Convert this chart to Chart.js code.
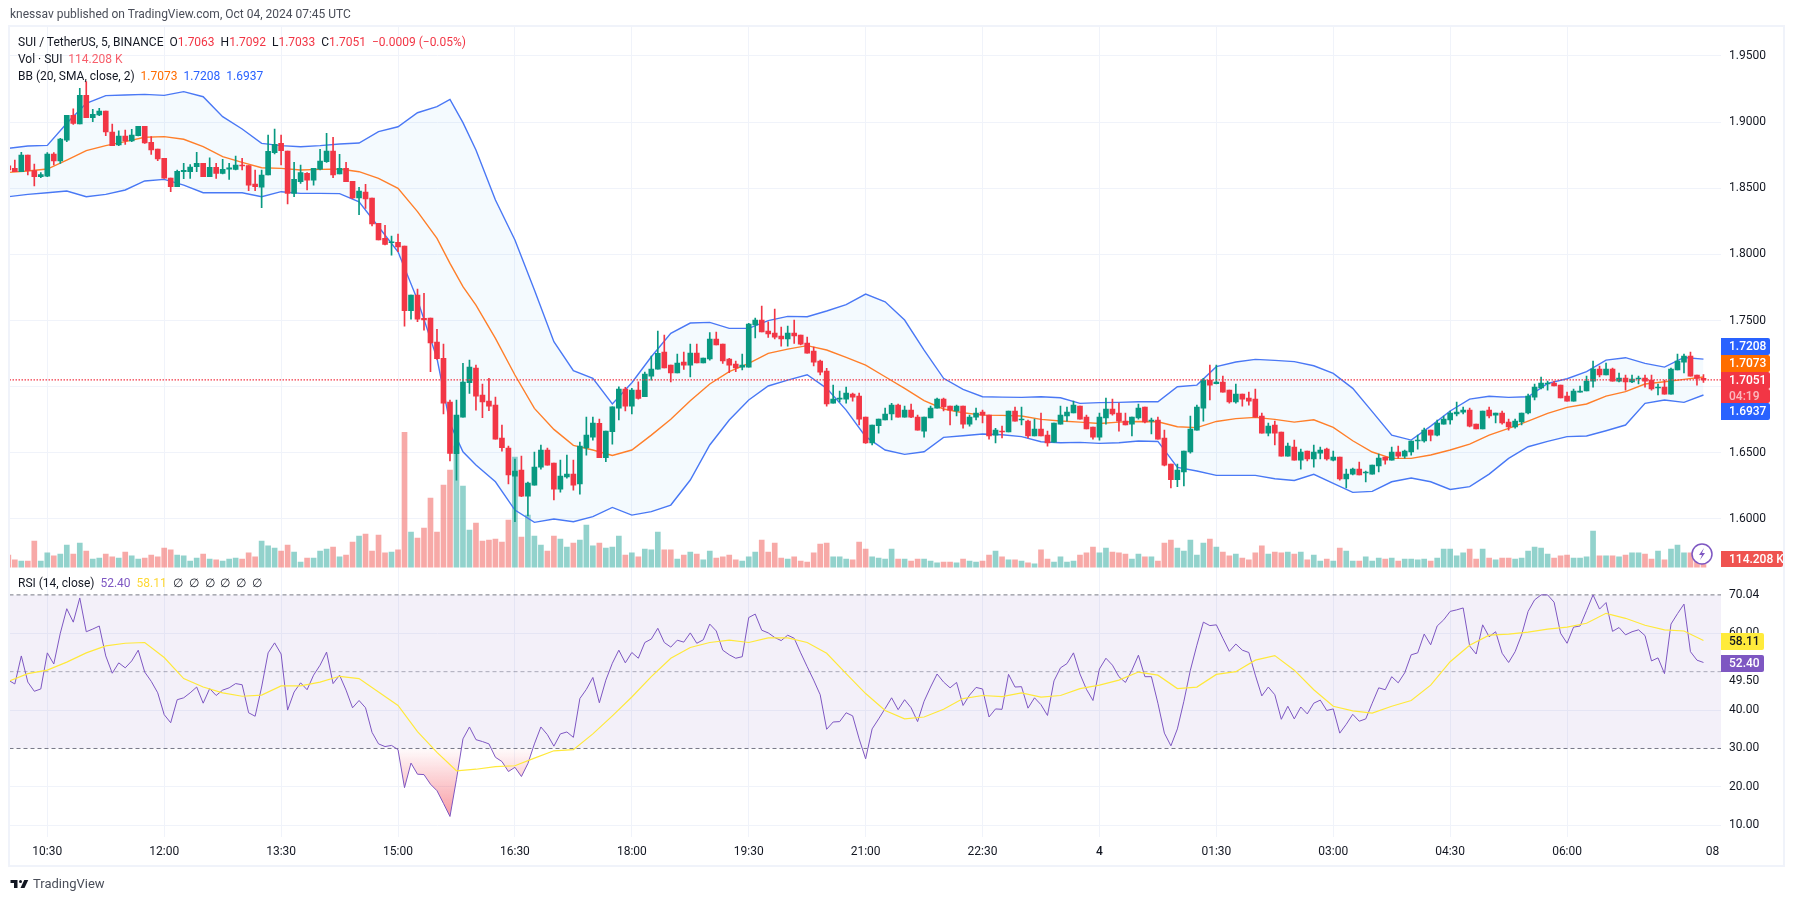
<!DOCTYPE html>
<html>
<head>
<meta charset="utf-8">
<title>SUI / TetherUS</title>
<script src="https://cdn.jsdelivr.net/npm/chart.js@4/dist/chart.umd.min.js"></script>
<style>
    html, body { margin: 0; padding: 0; background: #fff; width: 1794px; height: 901px; overflow: hidden; }
    body { font-family: Roboto, sans-serif; font-size: 12px; color: #131722; position: relative; }
    canvas { position: absolute; left: 0; top: 0; }
    .frame { position: absolute; left: 8px; top: 25px; width: 1773px; height: 838px; border: 2px solid #f0f3fa; }
    .row { position: absolute; left: 18px; white-space: pre; line-height: 16px; }
    .title { left: 10px; top: 6px; color: #4a4e59; }
    .red { color: #f23645; }
    .vol { color: #f7606c; }
    .orange { color: #ff6d00; }
    .blue { color: #2962ff; }
    .purple { color: #7e57c2; }
    .yellow { color: #fdd835; }
    .logo { position: absolute; left: 10px; top: 876px; display: flex; align-items: center; gap: 4px; font-size: 13px; color: #4a4e59; }
</style>
</head>
<body>
<canvas id="chart" width="1794" height="901"></canvas>
<div class="frame"></div>
<div class="row title">knessav published on TradingView.com, Oct 04, 2024 07:45 UTC</div>
<div class="row" style="top:34px">SUI / TetherUS, 5, BINANCE  O<span class="red">1.7063</span>  H<span class="red">1.7092</span>  L<span class="red">1.7033</span>  C<span class="red">1.7051</span>  <span class="red">−0.0009 (−0.05%)</span></div>
<div class="row" style="top:51px">Vol · SUI  <span class="vol">114.208 K</span></div>
<div class="row" style="top:68px">BB (20, SMA, close, 2)  <span class="orange">1.7073</span>  <span class="blue">1.7208</span>  <span class="blue">1.6937</span></div>
<div class="row" style="top:575px">RSI (14, close)  <span class="purple">52.40</span>  <span class="yellow">58.11</span>  ∅  ∅  ∅  ∅  ∅  ∅</div>
<div class="logo">
    <svg width="19" height="10" viewBox="0 0 36 20"><path fill="#131722" d="M14 2H0v6h7v10h7V2zM28 18h-8l7.5-16h8L28 18z"/><circle fill="#131722" cx="20" cy="5" r="3"/></svg>
    <span>TradingView</span>
</div>

<script>
// ==================== DATA ====================
const opens = [
    1.8670,1.8650,1.8625,1.8751,1.8633,1.8587,1.8592,1.8759,1.8706,1.8864,
    1.9051,1.8986,1.9202,1.9033,1.9054,1.9084,1.8925,1.8827,1.8895,1.8857,
    1.8897,1.8968,1.8847,1.8797,1.8726,1.8577,1.8512,1.8625,1.8625,1.8663,
    1.8688,1.8587,1.8658,1.8613,1.8645,1.8643,1.8673,1.8671,1.8532,1.8509,
    1.8600,1.8769,1.8839,1.8781,1.8461,1.8550,1.8613,1.8562,1.8645,1.8701,
    1.8781,1.8608,1.8650,1.8552,1.8426,1.8471,1.8426,1.8235,1.8121,1.8088,
    1.8091,1.8063,1.7574,1.7693,1.7516,1.7519,1.7337,1.7214,1.6884,1.6493,
    1.6770,1.7030,1.7141,1.6937,1.6891,1.6861,1.6612,1.6536,1.6324,1.6370,
    1.6173,1.6256,1.6392,1.6521,1.6423,1.6226,1.6317,1.6339,1.6264,1.6536,
    1.6619,1.6722,1.6463,1.6659,1.6838,1.6982,1.6853,1.6974,1.6924,1.7080,
    1.7133,1.7262,1.7163,1.7103,1.7186,1.7163,1.7254,1.7179,1.7209,1.7360,
    1.7322,1.7209,1.7171,1.7148,1.7148,1.7466,1.7504,1.7420,1.7405,1.7383,
    1.7360,1.7405,1.7390,1.7330,1.7269,1.7194,1.7118,1.6876,1.6906,1.6906,
    1.6944,1.6929,1.6770,1.6574,1.6705,1.6748,1.6793,1.6861,1.6770,1.6823,
    1.6770,1.6664,1.6763,1.6838,1.6906,1.6853,1.6816,1.6853,1.6717,1.6770,
    1.6808,1.6785,1.6634,1.6664,1.6657,1.6816,1.6748,1.6740,1.6627,1.6680,
    1.6634,1.6581,1.6717,1.6778,1.6801,1.6853,1.6770,1.6695,1.6619,1.6763,
    1.6831,1.6801,1.6740,1.6717,1.6763,1.6846,1.6740,1.6748,1.6612,1.6415,
    1.6297,1.6355,1.6506,1.6672,1.6838,1.7050,1.7022,1.7035,1.6974,1.6884,
    1.6944,1.6914,1.6906,1.6778,1.6649,1.6710,1.6657,1.6475,1.6543,1.6445,
    1.6513,1.6453,1.6498,1.6528,1.6445,1.6468,1.6302,1.6339,1.6377,1.6347,
    1.6339,1.6400,1.6468,1.6445,1.6506,1.6475,1.6506,1.6589,1.6589,1.6672,
    1.6634,1.6717,1.6748,1.6793,1.6808,1.6823,1.6717,1.6680,1.6823,1.6785,
    1.6801,1.6733,1.6695,1.6733,1.6801,1.6921,1.6990,1.7020,1.7027,1.7012,
    1.6929,1.6891,1.6959,1.6967,1.7042,1.7133,1.7088,1.7133,1.7042,1.7065,
    1.7035,1.7058,1.7065,1.7050,1.6990,1.6997,1.6944,1.7126,1.7186,1.7231,
    1.7088,1.7063
];
const highs = [
    1.8675,1.8713,1.8771,1.8751,1.8683,1.8618,1.8769,1.8769,1.8877,1.9051,
    1.9101,1.9255,1.9306,1.9096,1.9104,1.9084,1.8986,1.8935,1.8940,1.8945,
    1.8968,1.8968,1.8890,1.8797,1.8726,1.8577,1.8638,1.8688,1.8678,1.8771,
    1.8688,1.8729,1.8688,1.8718,1.8688,1.8744,1.8726,1.8671,1.8638,1.8638,
    1.8902,1.8948,1.8902,1.8781,1.8696,1.8676,1.8618,1.8650,1.8794,1.8915,
    1.8885,1.8756,1.8696,1.8552,1.8507,1.8529,1.8426,1.8235,1.8220,1.8139,
    1.8154,1.8063,1.7693,1.7738,1.7705,1.7519,1.7433,1.7322,1.6899,1.6899,
    1.7176,1.7201,1.7163,1.7020,1.7063,1.6921,1.6710,1.6551,1.6453,1.6475,
    1.6279,1.6506,1.6559,1.6536,1.6423,1.6445,1.6483,1.6445,1.6581,1.6770,
    1.6770,1.6755,1.6664,1.6848,1.6999,1.6995,1.6987,1.7037,1.7110,1.7231,
    1.7420,1.7390,1.7163,1.7247,1.7262,1.7322,1.7322,1.7216,1.7408,1.7413,
    1.7322,1.7214,1.7194,1.7247,1.7478,1.7519,1.7609,1.7491,1.7587,1.7451,
    1.7458,1.7504,1.7390,1.7375,1.7299,1.7201,1.7138,1.7012,1.6967,1.6997,
    1.6952,1.6952,1.6770,1.6710,1.6755,1.6838,1.6874,1.6869,1.6853,1.6869,
    1.6785,1.6770,1.6853,1.6914,1.6914,1.6853,1.6861,1.6853,1.6785,1.6838,
    1.6823,1.6785,1.6685,1.6702,1.6816,1.6846,1.6846,1.6748,1.6755,1.6801,
    1.6664,1.6725,1.6853,1.6846,1.6891,1.6853,1.6785,1.6695,1.6801,1.6914,
    1.6906,1.6876,1.6801,1.6770,1.6869,1.6846,1.6763,1.6770,1.6672,1.6415,
    1.6415,1.6513,1.6778,1.6861,1.7063,1.7163,1.7163,1.7080,1.6974,1.7020,
    1.6944,1.6959,1.6982,1.6801,1.6725,1.6740,1.6657,1.6574,1.6596,1.6528,
    1.6513,1.6559,1.6543,1.6536,1.6513,1.6468,1.6377,1.6385,1.6430,1.6362,
    1.6407,1.6491,1.6468,1.6543,1.6551,1.6521,1.6589,1.6634,1.6687,1.6672,
    1.6748,1.6778,1.6816,1.6884,1.6846,1.6838,1.6717,1.6816,1.6846,1.6801,
    1.6816,1.6755,1.6755,1.6801,1.6944,1.7020,1.7073,1.7042,1.7042,1.7012,
    1.6959,1.6982,1.7005,1.7080,1.7194,1.7156,1.7179,1.7141,1.7103,1.7088,
    1.7088,1.7080,1.7088,1.7088,1.7020,1.7050,1.7141,1.7247,1.7247,1.7262,
    1.7088,1.7092
];
const lows = [
    1.8625,1.8625,1.8625,1.8600,1.8517,1.8580,1.8587,1.8676,1.8688,1.8852,
    1.8983,1.8986,1.9033,1.9003,1.9049,1.8897,1.8822,1.8822,1.8832,1.8852,
    1.8895,1.8839,1.8756,1.8708,1.8575,1.8474,1.8512,1.8572,1.8575,1.8625,
    1.8587,1.8587,1.8575,1.8608,1.8567,1.8638,1.8638,1.8482,1.8482,1.8353,
    1.8600,1.8759,1.8676,1.8381,1.8436,1.8537,1.8487,1.8524,1.8638,1.8696,
    1.8580,1.8608,1.8550,1.8421,1.8300,1.8348,1.8215,1.8109,1.8071,1.7995,
    1.8020,1.7458,1.7511,1.7491,1.7428,1.7113,1.7206,1.6793,1.6438,1.6294,
    1.6770,1.6949,1.6823,1.6765,1.6818,1.6604,1.6513,1.6264,1.5979,1.6168,
    1.6022,1.6256,1.6377,1.6407,1.6143,1.6203,1.6309,1.6218,1.6188,1.6483,
    1.6596,1.6463,1.6433,1.6566,1.6748,1.6816,1.6793,1.6906,1.6924,1.7050,
    1.7133,1.7141,1.7035,1.7103,1.7131,1.7073,1.7179,1.7179,1.7201,1.7315,
    1.7176,1.7105,1.7113,1.7126,1.7148,1.7368,1.7413,1.7373,1.7360,1.7307,
    1.7307,1.7327,1.7315,1.7254,1.7156,1.7088,1.6853,1.6876,1.6884,1.6876,
    1.6891,1.6710,1.6571,1.6559,1.6649,1.6748,1.6748,1.6770,1.6770,1.6765,
    1.6672,1.6619,1.6763,1.6838,1.6816,1.6710,1.6778,1.6687,1.6702,1.6748,
    1.6725,1.6604,1.6574,1.6612,1.6657,1.6740,1.6710,1.6612,1.6627,1.6627,
    1.6551,1.6581,1.6717,1.6740,1.6801,1.6755,1.6680,1.6604,1.6596,1.6717,
    1.6785,1.6664,1.6710,1.6627,1.6755,1.6725,1.6642,1.6604,1.6400,1.6234,
    1.6244,1.6249,1.6498,1.6672,1.6740,1.6899,1.7020,1.6959,1.6876,1.6876,
    1.6853,1.6861,1.6770,1.6649,1.6627,1.6559,1.6475,1.6475,1.6445,1.6377,
    1.6438,1.6392,1.6453,1.6445,1.6438,1.6294,1.6234,1.6332,1.6332,1.6279,
    1.6339,1.6355,1.6415,1.6445,1.6460,1.6460,1.6483,1.6528,1.6581,1.6589,
    1.6627,1.6717,1.6717,1.6778,1.6793,1.6695,1.6680,1.6680,1.6763,1.6725,
    1.6717,1.6672,1.6687,1.6710,1.6793,1.6899,1.6982,1.6974,1.7005,1.6914,
    1.6891,1.6891,1.6959,1.6967,1.6997,1.7073,1.7088,1.7042,1.7035,1.6974,
    1.7030,1.7020,1.6997,1.6974,1.6937,1.6944,1.6944,1.7126,1.7103,1.7080,
    1.7012,1.7033
];
const closes = [
    1.8638,1.8625,1.8751,1.8633,1.8587,1.8603,1.8759,1.8706,1.8872,1.9051,
    1.8991,1.9202,1.9033,1.9059,1.9084,1.8925,1.8822,1.8895,1.8857,1.8902,
    1.8968,1.8842,1.8790,1.8721,1.8577,1.8512,1.8628,1.8635,1.8660,1.8688,
    1.8587,1.8658,1.8613,1.8643,1.8655,1.8676,1.8668,1.8524,1.8512,1.8600,
    1.8779,1.8832,1.8784,1.8461,1.8567,1.8618,1.8562,1.8650,1.8706,1.8781,
    1.8600,1.8650,1.8550,1.8426,1.8479,1.8419,1.8230,1.8109,1.8076,1.8093,
    1.8056,1.7574,1.7693,1.7511,1.7504,1.7330,1.7211,1.6876,1.6496,1.6785,
    1.7035,1.7148,1.6929,1.6884,1.6853,1.6604,1.6538,1.6332,1.6362,1.6173,
    1.6271,1.6392,1.6521,1.6407,1.6226,1.6324,1.6339,1.6256,1.6551,1.6634,
    1.6725,1.6463,1.6664,1.6848,1.6982,1.6853,1.6974,1.6911,1.7095,1.7133,
    1.7252,1.7141,1.7103,1.7179,1.7163,1.7254,1.7179,1.7216,1.7360,1.7315,
    1.7194,1.7163,1.7141,1.7163,1.7473,1.7504,1.7413,1.7398,1.7375,1.7360,
    1.7405,1.7383,1.7322,1.7254,1.7186,1.7110,1.6869,1.6906,1.6914,1.6952,
    1.6921,1.6755,1.6574,1.6710,1.6755,1.6793,1.6861,1.6770,1.6823,1.6770,
    1.6672,1.6770,1.6838,1.6906,1.6846,1.6823,1.6853,1.6717,1.6770,1.6801,
    1.6785,1.6627,1.6672,1.6657,1.6816,1.6740,1.6755,1.6627,1.6680,1.6627,
    1.6574,1.6725,1.6785,1.6808,1.6861,1.6755,1.6680,1.6619,1.6770,1.6831,
    1.6793,1.6740,1.6710,1.6770,1.6838,1.6733,1.6748,1.6604,1.6407,1.6297,
    1.6370,1.6513,1.6680,1.6846,1.7050,1.7012,1.7035,1.6959,1.6884,1.6944,
    1.6906,1.6891,1.6770,1.6649,1.6702,1.6649,1.6475,1.6551,1.6445,1.6506,
    1.6453,1.6506,1.6521,1.6453,1.6468,1.6302,1.6339,1.6377,1.6332,1.6355,
    1.6407,1.6460,1.6445,1.6506,1.6475,1.6513,1.6589,1.6596,1.6672,1.6634,
    1.6725,1.6755,1.6801,1.6808,1.6823,1.6702,1.6680,1.6816,1.6778,1.6801,
    1.6725,1.6695,1.6740,1.6801,1.6929,1.6997,1.7027,1.7027,1.7005,1.6914,
    1.6891,1.6967,1.6967,1.7042,1.7133,1.7088,1.7133,1.7042,1.7065,1.7035,
    1.7058,1.7065,1.7042,1.6982,1.6997,1.6944,1.7133,1.7194,1.7231,1.7080,
    1.7063,1.7051
];
// volume in thousands of SUI
const volumes = [
    176,105,90,90,376,90,205,162,190,319,
    190,347,233,119,133,190,148,133,219,162,
    119,133,176,148,276,248,176,162,90,133,
    190,119,105,90,119,133,119,205,148,376,
    305,276,233,319,219,76,133,133,233,262,
    290,148,176,362,447,476,233,462,205,219,
    248,1928,505,419,562,990,505,1176,1390,1733,
    1161,533,633,376,390,405,362,676,1576,433,
    747,447,319,233,447,405,290,347,390,605,
    305,347,276,290,447,176,205,148,262,248,
    505,248,248,119,176,219,190,105,233,133,
    148,176,105,90,148,219,390,219,347,133,
    119,148,90,76,205,333,347,148,148,119,
    105,362,262,148,133,119,262,119,119,90,
    119,119,90,62,76,76,62,119,90,76,
    90,176,233,148,105,105,90,62,48,248,
    119,76,148,76,90,176,205,290,205,276,
    219,205,190,119,190,148,148,90,347,390,
    276,233,390,176,347,405,290,219,162,190,
    133,105,205,305,190,219,205,219,190,219,
    105,176,90,119,90,276,233,90,90,148,
    90,133,119,133,90,119,119,105,119,90,
    133,262,262,162,205,262,119,262,133,105,
    133,133,119,133,233,290,276,190,133,162,
    176,133,133,148,519,162,162,162,148,176,
    205,205,190,119,233,105,262,319,205,205,
    105,114.208
];
const rsiValues = [
    47.8,46.8,54.1,47.3,44.9,45.5,54.9,52.0,60.0,66.4,
    62.9,69.2,60.4,61.1,61.9,54.1,49.6,52.3,51.0,52.8,
    55.6,49.9,47.5,44.5,38.8,36.7,42.7,43.2,44.5,46.0,
    41.8,45.6,43.8,45.2,45.8,46.9,46.6,39.3,38.4,46.0,
    54.9,57.5,54.6,40.0,44.7,47.1,45.3,49.1,51.7,55.1,
    46.9,49.1,45.2,40.6,42.5,40.6,34.2,31.2,30.5,30.8,
    29.7,19.8,26.2,23.3,23.2,20.7,19.0,15.7,12.3,22.0,
    32.5,35.6,32.3,31.8,31.2,27.7,26.6,24.0,25.1,22.7,
    26.1,31.2,35.6,33.6,30.6,33.8,34.3,32.9,43.0,45.4,
    48.5,41.9,47.8,52.2,55.6,52.3,55.0,53.5,57.6,58.5,
    61.3,57.6,56.4,58.2,57.7,60.1,57.4,58.3,62.4,60.6,
    55.6,54.4,53.5,53.9,64.1,65.0,60.8,60.1,58.9,58.1,
    59.5,58.7,54.9,51.3,47.8,44.0,35.0,36.9,37.0,39.3,
    38.5,32.5,27.3,35.1,37.7,40.4,43.2,40.1,42.7,40.6,
    37.0,42.3,46.0,49.4,47.3,45.8,47.2,41.2,43.9,45.9,
    45.5,38.2,40.3,40.2,49.3,46.0,46.1,40.5,43.2,41.4,
    38.6,47.6,51.0,52.1,54.9,49.4,45.4,42.5,50.7,53.5,
    51.7,48.7,47.2,50.4,54.3,48.7,48.7,41.8,34.0,30.7,
    35.1,42.3,50.4,56.9,62.9,62.0,62.2,58.7,55.3,57.2,
    55.6,55.0,49.1,43.7,46.0,44.0,37.6,41.0,37.7,40.8,
    39.0,41.8,42.6,39.9,40.3,34.0,36.3,38.9,37.1,37.7,
    41.8,45.8,45.3,48.7,47.1,49.7,54.4,54.9,59.8,57.0,
    61.9,63.5,65.7,66.1,66.6,56.7,54.6,62.2,59.1,60.4,
    54.8,52.4,55.2,59.6,65.7,68.7,70.0,70.0,68.1,60.0,
    57.4,61.6,61.9,65.9,70.0,66.3,68.0,60.5,61.5,59.6,
    60.4,60.9,59.4,52.8,53.6,49.5,62.4,65.1,67.6,55.2,
    53.0,52.40
];
// bar numbers the RSI average was read at, every third bar
const rsiMaBars = [
    0,3,6,9,12,15,18,21,24,27,30,33,36,39,42,45,48,51,54,57,60,63,66,69,72,75,78,81,84,87,90,
    93,96,99,102,105,108,111,114,117,120,123,126,129,132,135,138,141,144,147,150,153,156,159,162,165,168,171,174,177,180,183,
    186,189,192,195,198,201,204,207,210,213,216,219,222,225,228,231,234,237,240,243,246,249,252,255,258,261
];
const rsiMaValues = [
    47.5,49.5,50.4,52.5,54.9,56.7,57.4,57.6,53.7,48.2,46.0,44.5,43.6,43.9,46.3,46.3,47.3,48.8,48.2,44.7,41.2,34.4,29.0,24.2,24.6,25.3,25.5,27.5,29.4,29.7,33.8,
    38.5,43.4,48.7,53.5,56.3,57.6,58.2,57.6,58.8,58.8,57.6,54.8,49.5,44.3,39.9,37.7,38.2,40.2,43.0,43.8,43.5,44.5,43.4,43.8,45.6,46.5,47.8,49.9,49.1,45.6,46.0,
    49.3,50.0,53.0,54.2,50.4,45.3,41.0,39.8,39.2,41.0,42.5,46.5,52.6,56.9,59.5,59.8,60.3,61.1,61.6,62.6,65.2,63.9,62.1,60.9,60.6,58.11
];
// bar numbers the Bollinger lines were read at
const bbBars = [
    0,3,6,9,12,15,18,21,24,27,30,33,36,39,42,45,48,51,54,57,60,63,66,68,70,72,75,78,81,84,87,90,
    93,96,99,102,105,108,111,114,117,120,123,126,129,132,135,138,141,144,147,150,153,156,159,162,165,168,171,174,177,180,183,
    186,189,192,195,198,201,204,207,210,213,216,219,222,225,228,231,234,237,240,243,246,249,252,255,258,261
];
const bbUpper = [
    1.8802,1.8819,1.8824,1.8991,1.9142,1.9200,1.9205,1.9210,1.9202,1.9230,1.9192,1.9041,1.8948,1.8839,1.8822,1.8814,1.8822,1.8834,1.8842,1.8928,1.8965,1.9071,1.9117,1.9172,1.8996,1.8789,1.8411,1.8109,1.7730,1.7340,1.7121,1.7063,
    1.6869,1.7030,1.7226,1.7403,1.7481,1.7486,1.7441,1.7441,1.7499,1.7531,1.7529,1.7572,1.7620,1.7700,1.7642,1.7504,1.7277,1.7063,1.6979,1.6924,1.6921,1.6919,1.6924,1.6916,1.6874,1.6879,1.6881,1.6886,1.6886,1.6999,1.7012,
    1.7151,1.7186,1.7206,1.7199,1.7189,1.7158,1.7100,1.6987,1.6811,1.6634,1.6596,1.6702,1.6816,1.6906,1.6927,1.6919,1.6924,1.7025,1.7060,1.7113,1.7201,1.7219,1.7176,1.7148,1.7221,1.7208
];
const bbBasis = [
    1.8620,1.8630,1.8645,1.8713,1.8784,1.8822,1.8852,1.8885,1.8890,1.8870,1.8814,1.8739,1.8696,1.8655,1.8650,1.8638,1.8643,1.8645,1.8625,1.8575,1.8499,1.8323,1.8121,1.7932,1.7756,1.7617,1.7365,1.7088,1.6836,1.6677,1.6556,1.6521,
    1.6480,1.6521,1.6634,1.6753,1.6894,1.7020,1.7113,1.7176,1.7252,1.7284,1.7310,1.7277,1.7221,1.7163,1.7075,1.6987,1.6894,1.6831,1.6803,1.6785,1.6783,1.6778,1.6753,1.6740,1.6732,1.6722,1.6732,1.6737,1.6735,1.6697,1.6690,
    1.6737,1.6758,1.6768,1.6753,1.6732,1.6750,1.6692,1.6591,1.6506,1.6458,1.6458,1.6483,1.6521,1.6566,1.6634,1.6685,1.6740,1.6798,1.6843,1.6869,1.6929,1.6962,1.7020,1.7037,1.7055,1.7073
];
const bbLower = [
    1.8436,1.8454,1.8466,1.8479,1.8436,1.8454,1.8487,1.8555,1.8567,1.8524,1.8466,1.8466,1.8466,1.8436,1.8474,1.8461,1.8461,1.8459,1.8398,1.8209,1.8020,1.7655,1.7214,1.6722,1.6508,1.6407,1.6281,1.6067,1.5974,1.6000,1.5979,1.6017,
    1.6087,1.6029,1.6055,1.6105,1.6294,1.6559,1.6748,1.6899,1.7005,1.7050,1.7090,1.6987,1.6823,1.6622,1.6521,1.6488,1.6508,1.6617,1.6629,1.6642,1.6637,1.6622,1.6584,1.6576,1.6579,1.6571,1.6576,1.6589,1.6586,1.6390,1.6362,
    1.6329,1.6329,1.6329,1.6304,1.6291,1.6337,1.6269,1.6201,1.6208,1.6281,1.6309,1.6281,1.6223,1.6244,1.6339,1.6458,1.6546,1.6586,1.6622,1.6627,1.6667,1.6710,1.6874,1.6899,1.6881,1.6937
];
const priceTicks = [1.95, 1.90, 1.85, 1.80, 1.75, 1.70, 1.65, 1.60];
const rsiTicks = [70.04, 60, 47.6, 40, 30, 20, 10];
const rsiTickLabels = ['70.04', '60.00', '49.50', '40.00', '30.00', '20.00', '10.00'];
const timeBars = [6, 24, 42, 60, 78, 96, 114, 132, 150, 168, 186, 204, 222, 240, 262.4];
const timeLabels = ['10:30', '12:00', '13:30', '15:00', '16:30', '18:00', '19:30', '21:00', '22:30', '4', '01:30', '03:00', '04:30', '06:00', '08'];

// ==================== COLORS ====================
const UP = '#089981';
const DOWN = '#f23645';
const GRID = '#f0f3fa';
const FONT = 'Roboto, sans-serif';
const X_MIN = 0.18;
const X_MAX = 263.7;

const bars = opens.map((_, i) => i);
const isUp = bars.map(i => closes[i] >= opens[i]);

function pairs(xs, ys) {
    return xs.map((x, i) => ({ x, y: ys[i] }));
}

function level(value) {
    return [{ x: X_MIN, y: value }, { x: X_MAX, y: value }];
}

function lineSet(data, yAxisID, color, extra) {
    return Object.assign({ type: 'line', data, yAxisID, borderColor: color, borderWidth: 1, pointRadius: 0, tension: 0, fill: false }, extra);
}

// ==================== VALUE TAGS ====================
function drawTag(ctx, text, top, bottom, bg, fg, right) {
    ctx.fillStyle = bg;
    ctx.beginPath();
    ctx.roundRect(1721, top, right - 1721, bottom - top, [0, 2, 2, 0]);
    ctx.fill();
    ctx.fillStyle = fg;
    ctx.textAlign = 'left';
    ctx.textBaseline = 'middle';
    ctx.fillText(text, 1729, (top + bottom) / 2 + 0.5);
}

const tagPlugin = {
    id: 'tags',
    afterDraw(chart) {
        const ctx = chart.ctx;
        ctx.save();
        ctx.font = '500 12px ' + FONT;
        drawTag(ctx, bbUpper[bbUpper.length - 1].toFixed(4), 338, 355, '#2962ff', '#fff', 1770);
        drawTag(ctx, bbBasis[bbBasis.length - 1].toFixed(4), 355, 372, '#ff6d00', '#fff', 1770);
        drawTag(ctx, closes[closes.length - 1].toFixed(4), 372, 389, DOWN, '#fff', 1770);
        drawTag(ctx, '04:19', 389, 403, DOWN, 'rgba(255,255,255,0.65)', 1770);
        drawTag(ctx, bbLower[bbLower.length - 1].toFixed(4), 403, 420, '#2962ff', '#fff', 1770);
        drawTag(ctx, '114.208 K', 551, 567, '#ef5350', '#fff', 1783);
        drawTag(ctx, rsiMaValues[rsiMaValues.length - 1].toFixed(2), 633, 650, '#ffeb3b', '#131722', 1764);
        drawTag(ctx, rsiValues[rsiValues.length - 1].toFixed(2), 655, 672, '#7e57c2', '#fff', 1764);

        // bolt badge over the volume pane
        ctx.beginPath();
        ctx.arc(1702, 554, 10, 0, Math.PI * 2);
        ctx.fillStyle = '#fff';
        ctx.fill();
        ctx.lineWidth = 1.5;
        ctx.strokeStyle = '#7e57c2';
        ctx.stroke();
        ctx.beginPath();
        ctx.moveTo(1704, 548);
        ctx.lineTo(1699, 555);
        ctx.lineTo(1702, 555);
        ctx.lineTo(1700, 560);
        ctx.lineTo(1705, 553);
        ctx.lineTo(1702, 553);
        ctx.closePath();
        ctx.fillStyle = '#7e57c2';
        ctx.fill();
        ctx.restore();
    }
};

// ==================== CHART ====================
const chart = new Chart(document.getElementById('chart'), {
    type: 'bar',
    data: {
        datasets: [
            // RSI band and levels
            lineSet(level(70), 'yRsi', '#787b86', { borderDash: [4, 3], order: 20, fill: '+1', backgroundColor: 'rgba(126,87,194,0.09)' }),
            lineSet(level(30), 'yRsi', '#787b86', { borderDash: [4, 3], order: 20 }),
            lineSet(level(50), 'yRsi', 'rgba(120,123,134,0.6)', { borderDash: [4, 3], order: 20 }),
            lineSet(pairs(bars, rsiValues), 'yRsi', '#7e57c2', { order: 6, fill: { target: { value: 30 }, above: 'transparent', below: 'rgba(242,54,69,0.3)' } }),
            lineSet(pairs(rsiMaBars, rsiMaValues), 'yRsi', '#ffe93b', { order: 5, borderWidth: 1.2 }),
            // Bollinger bands
            lineSet(pairs(bbBars, bbUpper), 'y', '#4a78f5', { order: 9, fill: '+1', backgroundColor: 'rgba(33,150,243,0.05)', borderWidth: 1.4 }),
            lineSet(pairs(bbBars, bbLower), 'y', '#4a78f5', { order: 9, borderWidth: 1.4 }),
            lineSet(pairs(bbBars, bbBasis), 'y', '#ff7f2a', { order: 8, borderWidth: 1.4 }),
            // last price line
            lineSet(level(closes[closes.length - 1]), 'y', DOWN, { borderDash: [1.5, 1.5], borderWidth: 1.4, order: 2 }),
            // volume
            {
                data: bars.map(i => ({ x: i, y: volumes[i] })),
                yAxisID: 'yVol',
                backgroundColor: isUp.map(u => u ? 'rgba(38,166,154,0.5)' : 'rgba(239,83,80,0.5)'),
                barThickness: 5,
                order: 12
            },
            // candle wicks and bodies
            {
                data: bars.map(i => ({ x: i, y: [lows[i], highs[i]] })),
                yAxisID: 'y',
                backgroundColor: isUp.map(u => u ? UP : DOWN),
                barThickness: 1,
                order: 4
            },
            {
                data: bars.map(i => ({ x: i, y: [opens[i], closes[i]] })),
                yAxisID: 'y',
                backgroundColor: isUp.map(u => u ? UP : DOWN),
                barThickness: 5,
                minBarLength: 1,
                order: 3
            }
        ]
    },
    options: {
        responsive: false,
        animation: false,
        events: [],
        layout: { padding: { left: 9.5, top: 27, right: 0, bottom: 36 } },
        datasets: { bar: { grouped: false } },
        plugins: { legend: { display: false }, tooltip: { enabled: false } },
        scales: {
            x: {
                type: 'linear',
                position: 'bottom',
                min: X_MIN,
                max: X_MAX,
                offset: false,
                afterBuildTicks: axis => { axis.ticks = timeBars.map(value => ({ value })); },
                afterFit: axis => { axis.height = 28; },
                border: { display: false },
                grid: {
                    offset: false,
                    drawTicks: false,
                    color: ctx => ctx.tick && ctx.tick.value === 262.4 ? 'transparent' : GRID
                },
                ticks: {
                    autoSkip: false,
                    maxRotation: 0,
                    padding: 8,
                    color: '#131722',
                    font: ctx => ({ family: FONT, size: 12, weight: ctx.tick && ctx.tick.value === 168 ? '500' : 'normal' }),
                    callback: (value, i) => timeLabels[i]
                }
            },
            y: {
                type: 'linear',
                position: 'right',
                stack: 'panes',
                stackWeight: 543,
                weight: 1,
                min: 1.5614,
                max: 1.9719,
                afterBuildTicks: axis => { axis.ticks = priceTicks.map(value => ({ value })); },
                afterFit: axis => { axis.width = 73; },
                border: { display: false },
                grid: { color: GRID, drawTicks: false },
                ticks: { padding: 8, color: '#131722', font: { family: FONT, size: 12 }, callback: v => v.toFixed(4) }
            },
            yRsi: {
                type: 'linear',
                position: 'right',
                stack: 'panes',
                stackWeight: 267,
                weight: 1,
                min: 6.95,
                max: 76.48,
                afterBuildTicks: axis => { axis.ticks = rsiTicks.map(value => ({ value })); },
                afterFit: axis => { axis.width = 73; },
                border: { display: false },
                grid: {
                    drawTicks: false,
                    color: ctx => ctx.tick && [60, 40, 20, 10].includes(ctx.tick.value) ? GRID : 'transparent'
                },
                ticks: { padding: 8, color: '#131722', font: { family: FONT, size: 12 }, callback: (v, i) => rsiTickLabels[i] }
            },
            yVol: {
                type: 'linear',
                position: 'left',
                display: false,
                min: -3857,
                max: 7726
            }
        }
    },
    plugins: [tagPlugin]
});

// oversold fade needs the finished scale
const rsiScale = chart.scales.yRsi;
const fade = chart.ctx.createLinearGradient(0, rsiScale.getPixelForValue(30), 0, rsiScale.getPixelForValue(12));
fade.addColorStop(0, 'rgba(242,54,69,0.02)');
fade.addColorStop(1, 'rgba(242,54,69,0.5)');
chart.data.datasets[3].fill.below = fade;
chart.update('none');
</script>
</body>
</html>
